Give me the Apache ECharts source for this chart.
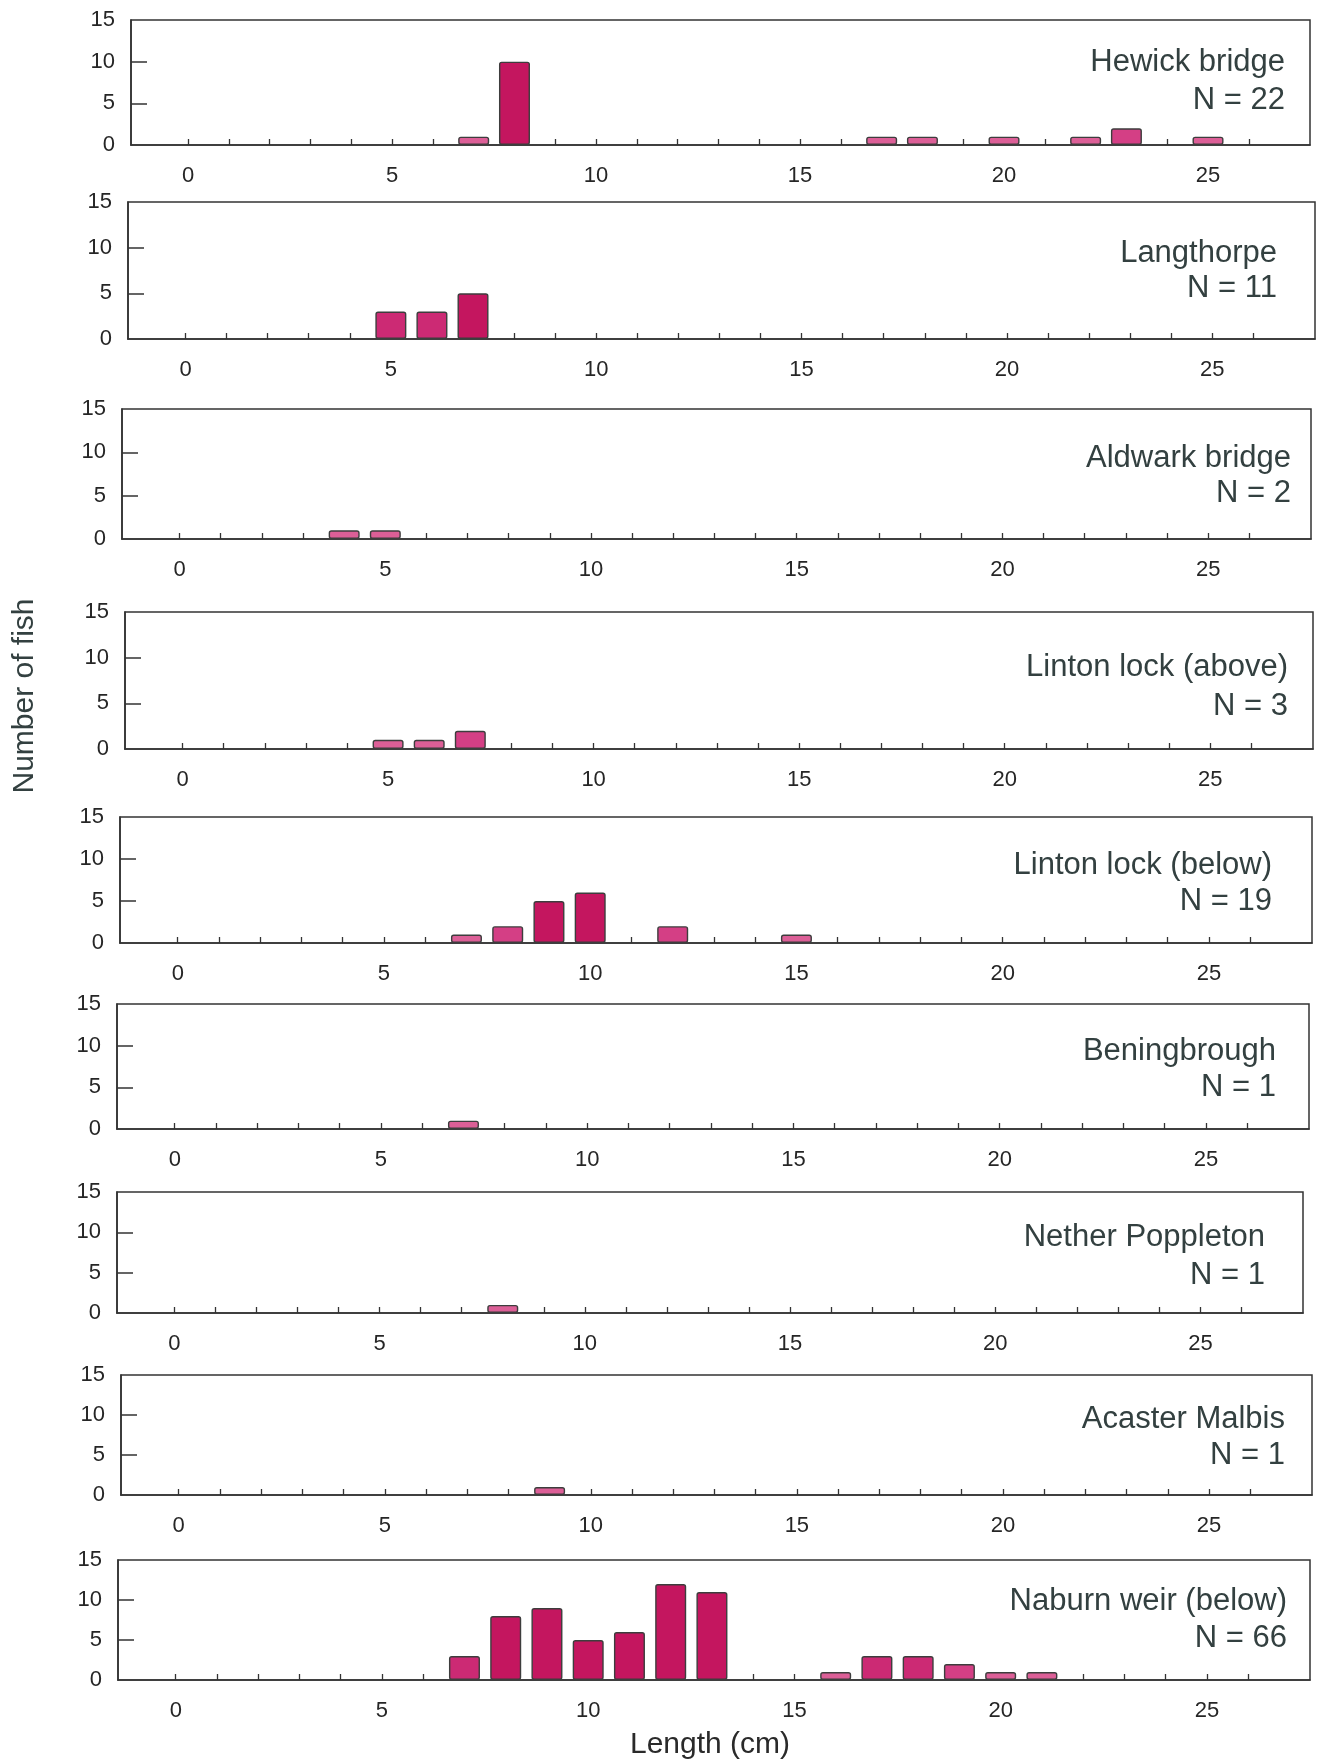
<!DOCTYPE html>
<html>
<head>
<meta charset="utf-8">
<script src="https://cdn.jsdelivr.net/npm/echarts@6/dist/echarts.min.js"></script>
<style>
  html, body { margin: 0; padding: 0; background: #ffffff; }
  #chart { width: 1319px; height: 1760px; }
</style>
</head>
<body>
<div id="chart"></div>
<script>
// ---------- data ----------
const sites = ['Hewick bridge', 'Langthorpe', 'Aldwark bridge', 'Linton lock (above)',
  'Linton lock (below)', 'Beningbrough', 'Nether Poppleton', 'Acaster Malbis', 'Naburn weir (below)'];
const sampleSizes = [22, 11, 2, 3, 19, 1, 1, 1, 66];

// [length (cm), number of fish]
const hewickBridge = [[7, 1], [8, 10], [17, 1], [18, 1], [20, 1], [22, 1], [23, 2], [25, 1]];
const langthorpe = [[5, 3], [6, 3], [7, 5]];
const aldwarkBridge = [[4, 1], [5, 1]];
const lintonLockAbove = [[5, 1], [6, 1], [7, 2]];
const lintonLockBelow = [[7, 1], [8, 2], [9, 5], [10, 6], [12, 2], [15, 1]];
const beningbrough = [[7, 1]];
const netherPoppleton = [[8, 1]];
const acasterMalbis = [[9, 1]];
const naburnWeirBelow = [[7, 3], [8, 8], [9, 9], [10, 5], [11, 6], [12, 12], [13, 11],
  [16, 1], [17, 3], [18, 3], [19, 2], [20, 1], [21, 1]];

const siteData = [hewickBridge, langthorpe, aldwarkBridge, lintonLockAbove, lintonLockBelow,
  beningbrough, netherPoppleton, acasterMalbis, naburnWeirBelow];

const xTickValues = [0, 1, 2, 3, 4, 5, 6, 7, 8, 9, 10, 11, 12, 13, 14, 15, 16, 17, 18, 19, 20, 21, 22, 23, 24, 25, 26];
const xLabelValues = [0, 5, 10, 15, 20, 25];
const yTickValues = [5, 10];
const yLabelValues = [0, 5, 10, 15];

// ---------- layout (pixels) ----------
// [left, top, right, bottom]
const panelBoxes = [
  [131, 20, 1310, 145],
  [128, 202, 1315, 339],
  [122, 409, 1311, 539],
  [125, 612, 1313, 749],
  [120, 817, 1312, 943],
  [117, 1004, 1309, 1129],
  [117, 1192, 1303, 1313],
  [121, 1375, 1312, 1495],
  [118, 1560, 1310, 1680]
];
// [right x, line1 y, line2 y]
const panelTextPos = [
  [1285, 62, 100],
  [1277, 253, 288],
  [1291, 458, 493],
  [1288, 667, 706],
  [1272, 865, 901],
  [1276, 1051, 1087],
  [1265, 1237, 1275],
  [1285, 1419, 1455],
  [1287, 1601, 1638]
];

const FONT = '"Liberation Sans", Arial, Helvetica, sans-serif';
const AXIS_COLOR = '#333333';
const TEXT_COLOR = '#334040';

function barColor(v) {
  if (v <= 1) return '#dc5f97';
  if (v <= 2) return '#d43f85';
  if (v <= 3) return '#cc2a74';
  return '#c4165f';
}

const grids = [], xAxes = [], yAxes = [], series = [], graphics = [];

panelBoxes.forEach((b, i) => {
  grids.push({
    left: b[0], top: b[1], width: b[2] - b[0], height: b[3] - b[1],
    show: true, borderColor: AXIS_COLOR, borderWidth: 1.5, backgroundColor: 'transparent'
  });
  xAxes.push({
    type: 'value', gridIndex: i, min: -1.4, max: 27.5,
    axisLine: { show: true, onZero: false, lineStyle: { color: AXIS_COLOR, width: 1.6 } },
    axisTick: { show: true, inside: true, length: 6, customValues: xTickValues,
      lineStyle: { color: AXIS_COLOR, width: 1.3 } },
    axisLabel: { show: true, customValues: xLabelValues, margin: 20,
      color: '#262626', fontSize: 22, fontFamily: FONT },
    splitLine: { show: false }
  });
  yAxes.push({
    type: 'value', gridIndex: i, min: 0, max: 15, interval: 5,
    axisLine: { show: true, onZero: false, lineStyle: { color: AXIS_COLOR, width: 1.6 } },
    axisTick: { show: true, inside: true, length: 16, customValues: yTickValues,
      lineStyle: { color: AXIS_COLOR, width: 1.5 } },
    axisLabel: { show: true, customValues: yLabelValues, margin: 16,
      color: '#262626', fontSize: 22, fontFamily: FONT },
    splitLine: { show: false }
  });
  series.push({
    type: 'bar', xAxisIndex: i, yAxisIndex: i,
    data: siteData[i],
    barWidth: 31,
    itemStyle: {
      color: function (p) { return barColor(p.value[1]); },
      borderColor: '#3d3d3d', borderWidth: 1.4, borderRadius: 2
    },
    emphasis: { disabled: true },
    animation: false
  });
  const t = panelTextPos[i];
  graphics.push({
    type: 'text', x: t[0], y: t[1],
    style: { text: sites[i], fill: TEXT_COLOR, font: '31px ' + FONT, align: 'right', verticalAlign: 'middle' }
  });
  graphics.push({
    type: 'text', x: t[0], y: t[2],
    style: { text: 'N = ' + sampleSizes[i], fill: TEXT_COLOR, font: '31px ' + FONT, align: 'right', verticalAlign: 'middle' }
  });
});

graphics.push({
  type: 'text', x: 25, y: 696, rotation: Math.PI / 2,
  style: { text: 'Number of fish', fill: TEXT_COLOR, font: '30px ' + FONT, align: 'center', verticalAlign: 'middle' }
});
graphics.push({
  type: 'text', x: 710, y: 1745,
  style: { text: 'Length (cm)', fill: '#2a2a2a', font: '30px ' + FONT, align: 'center', verticalAlign: 'middle' }
});

const chart = echarts.init(document.getElementById('chart'), null, { renderer: 'canvas' });
chart.setOption({
  backgroundColor: '#ffffff',
  animation: false,
  grid: grids,
  xAxis: xAxes,
  yAxis: yAxes,
  series: series,
  graphic: graphics
});
</script>
</body>
</html>
